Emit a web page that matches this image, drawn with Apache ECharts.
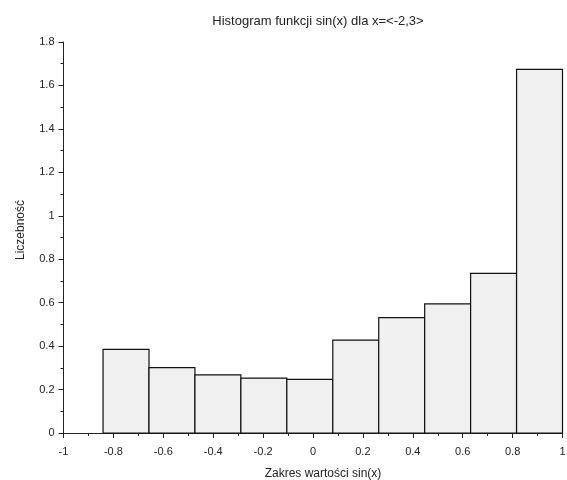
<!DOCTYPE html>
<html>
<head>
    <meta charset="utf-8" />
    <script src="https://cdn.jsdelivr.net/npm/echarts@6/dist/echarts.min.js"></script>
    <style>html,body{margin:0;padding:0;background:#fff;} #chart{width:567px;height:480px;}</style>
</head>
<body>
<div id="chart"></div>
<script>
    // histogram bins (edges) and bar heights
    var binEdges = [-0.8415, -0.6573, -0.4732, -0.2890, -0.1049, 0.0793, 0.2634, 0.4476, 0.6317, 0.8159, 1.0];
    var heights = [0.385, 0.301, 0.268, 0.253, 0.247, 0.428, 0.531, 0.594, 0.735, 1.674];

    var bars = [];
    for (var i = 0; i < heights.length; i++) {
        bars.push([binEdges[i], binEdges[i + 1], heights[i]]);
    }

    var font = 'Liberation Sans, Arial, sans-serif';
    var myChart = echarts.init(document.getElementById('chart'));
    myChart.setOption({
        animation: false,
        title: {
            text: 'Histogram funkcji sin(x) dla x=<-2,3>',
            left: 313,
            textAlign: 'center',
            top: 10,
            textStyle: {fontSize: 13, fontWeight: 'normal', color: '#222', fontFamily: font}
        },
        grid: {left: 63.5, right: 4.5, top: 42, bottom: 47, outerBoundsMode: 'none'},
        xAxis: {
            type: 'value',
            min: -1, max: 1, interval: 0.2,
            name: 'Zakres wartości sin(x)',
            nameLocation: 'middle',
            nameGap: 35,
            nameTextStyle: {fontSize: 12, color: '#222', fontFamily: font, padding: [0, 0, 0, 20]},
            axisLine: {show: true, onZero: false, lineStyle: {color: '#222', width: 1}},
            axisTick: {show: true, inside: false, length: 5, lineStyle: {color: '#222'}},
            minorTick: {show: true, splitNumber: 2, length: 3, lineStyle: {color: '#222'}},
            splitLine: {show: false},
            axisLabel: {fontSize: 11, color: '#222', fontFamily: font, margin: 13}
        },
        yAxis: {
            type: 'value',
            min: 0, max: 1.8, interval: 0.2,
            name: 'Liczebność',
            nameLocation: 'middle',
            nameGap: 37,
            nameTextStyle: {fontSize: 12, color: '#222', fontFamily: font, padding: [0, 0, 0, 15]},
            axisLine: {show: true, onZero: false, lineStyle: {color: '#222', width: 1}},
            axisTick: {show: true, inside: false, length: 5, lineStyle: {color: '#222'}},
            minorTick: {show: true, splitNumber: 2, length: 3, lineStyle: {color: '#222'}},
            splitLine: {show: false},
            axisLabel: {fontSize: 11, color: '#222', fontFamily: font, margin: 9}
        },
        series: [{
            type: 'custom',
            data: bars,
            encode: {x: [0, 1], y: 2},
            renderItem: function (params, api) {
                var p0 = api.coord([api.value(0), 0]);
                var p1 = api.coord([api.value(1), api.value(2)]);
                return {
                    type: 'rect',
                    shape: {x: p0[0], y: p1[1], width: p1[0] - p0[0], height: p0[1] - p1[1]},
                    style: {fill: '#f0f0f0', stroke: '#111', lineWidth: 1.2}
                };
            }
        }]
    });
</script>
</body>
</html>
